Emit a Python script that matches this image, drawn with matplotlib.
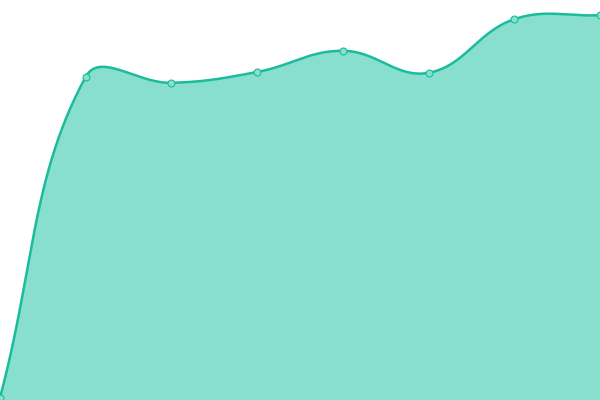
import numpy as np
import matplotlib
matplotlib.use("Agg")
import matplotlib.pyplot as plt

labels = ["1", "2", "3", "4", "5", "6", "7", "8"]
values = [0.6, 80.8, 79.3, 82.0, 87.3, 81.8, 95.2, 96.2]

LINE = "#1abc9c"
FILL = "#89dfce"

fig = plt.figure(figsize=(6, 4), dpi=100)
ax = fig.add_axes([0, 0, 1, 1])
ax.set_xlim(0, len(values) - 1)
ax.set_ylim(0, 100)
ax.axis("off")

xs = np.arange(len(values), dtype=float)
ys = np.array(values, dtype=float)

# Chart.js-like spline (tension 0.4) computed in display space
pts = ax.transData.transform(np.column_stack([xs, ys]))
t = 0.4
n = len(pts)
cp_prev = np.zeros_like(pts)
cp_next = np.zeros_like(pts)
for i in range(n):
    cur = pts[i]
    prev = pts[i - 1] if i > 0 else cur
    nxt = pts[i + 1] if i < n - 1 else cur
    d01 = np.hypot(*(cur - prev))
    d12 = np.hypot(*(nxt - cur))
    tot = d01 + d12
    s01 = d01 / tot if tot else 0
    s12 = d12 / tot if tot else 0
    fa, fb = t * s01, t * s12
    cp_prev[i] = cur - fa * (nxt - prev)
    cp_next[i] = cur + fb * (nxt - prev)

curve = []
u = np.linspace(0, 1, 60)[:, None]
for i in range(n - 1):
    p0, p1, p2, p3 = pts[i], cp_next[i], cp_prev[i + 1], pts[i + 1]
    seg = ((1 - u) ** 3) * p0 + 3 * ((1 - u) ** 2) * u * p1 + 3 * (1 - u) * u ** 2 * p2 + u ** 3 * p3
    curve.append(seg if i == 0 else seg[1:])
curve = np.vstack(curve)
cd = ax.transData.inverted().transform(curve)

ax.fill_between(cd[:, 0], cd[:, 1], 0, color=FILL, linewidth=0, zorder=1)
ax.plot(cd[:, 0], cd[:, 1], color=LINE, linewidth=1.8, zorder=2, clip_on=True)
ax.plot(xs, ys, linestyle="none", marker="o", markersize=5, markerfacecolor=FILL,
        markeredgecolor=LINE, markeredgewidth=0.8, zorder=3, clip_on=False)

fig.savefig("out.png", dpi=100)
